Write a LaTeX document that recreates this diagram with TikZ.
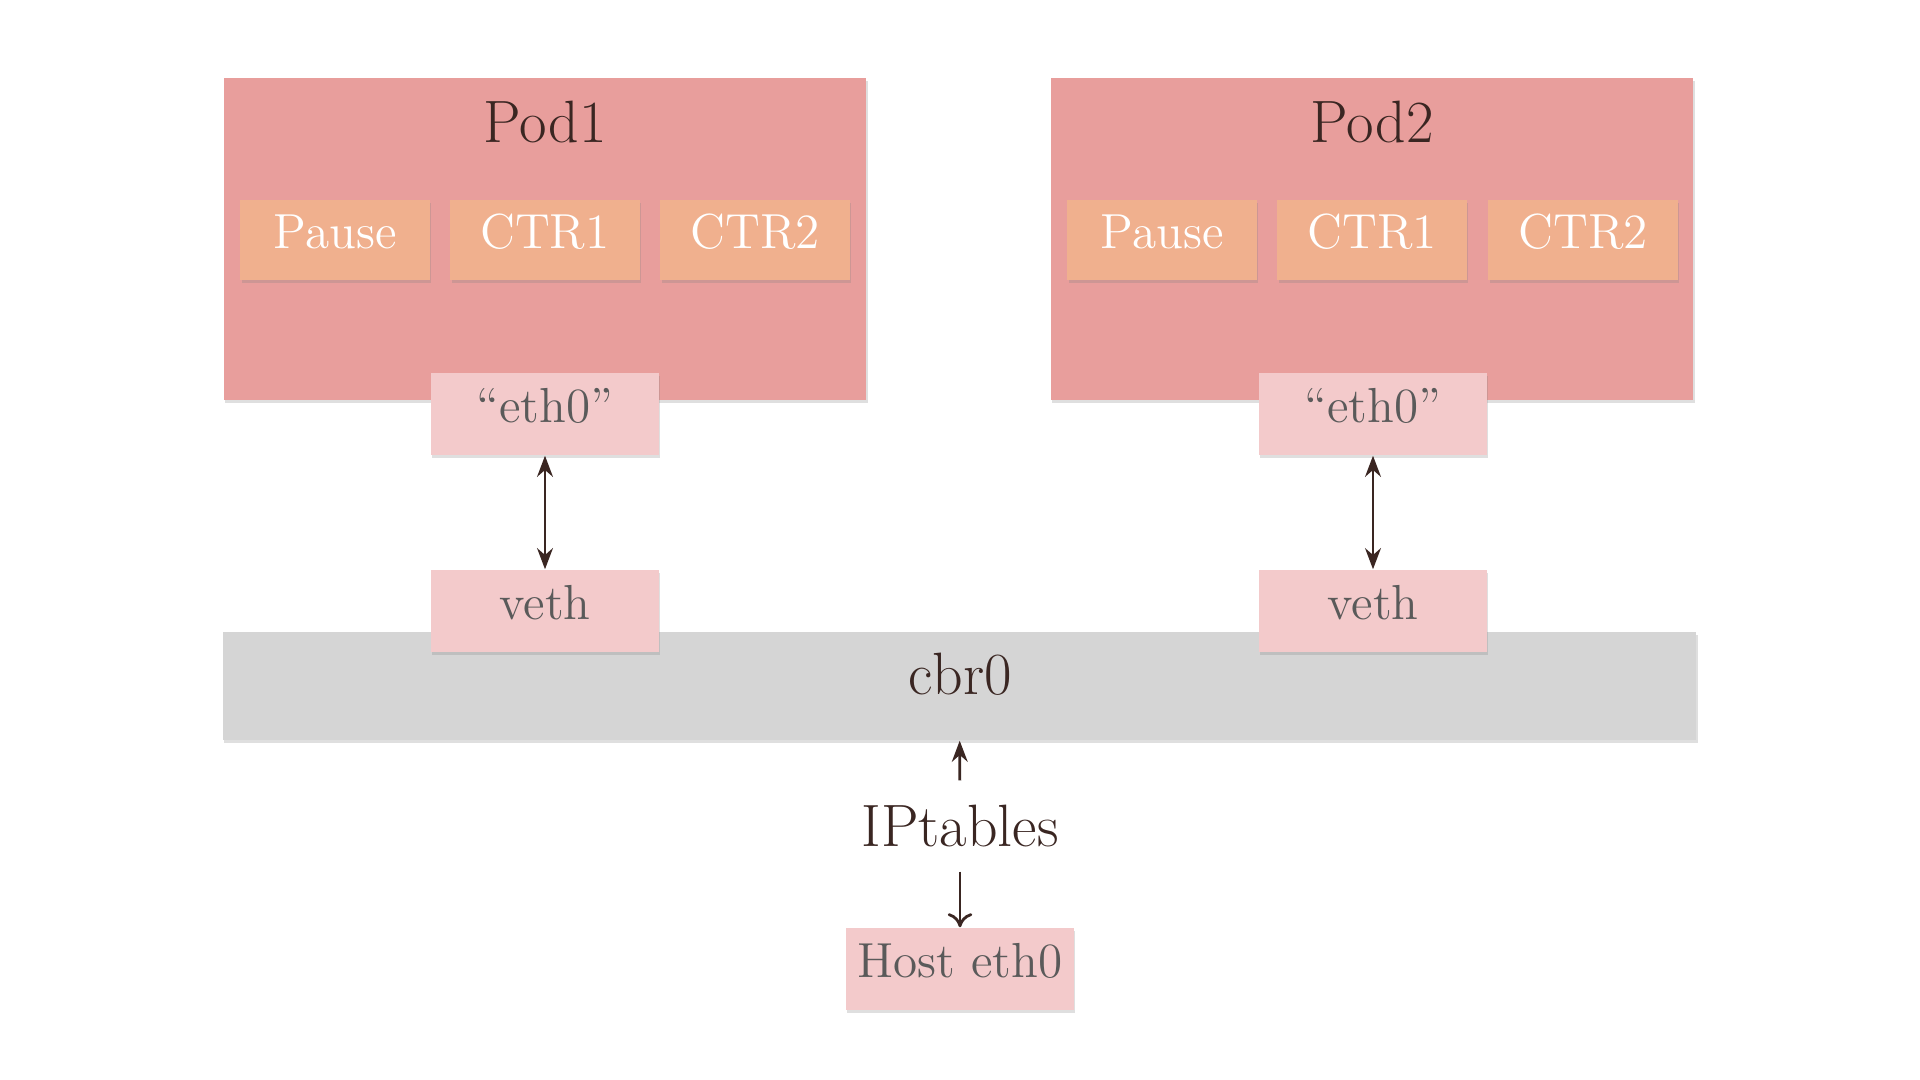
\documentclass[tikz,border=0pt]{standalone}
\usetikzlibrary{arrows.meta,shadows}
\begin{document}
\begin{tikzpicture}[x=0.01cm,y=-0.01cm,
    box/.style={rectangle, inner sep=0pt, drop shadow={shadow xshift=0.4pt, shadow yshift=-0.8pt, opacity=0.25}},
    podbox/.style={box, fill=podfill, minimum width=6.42cm, minimum height=3.22cm},
    ctrbox/.style={box, fill=ctrfill, text=white, minimum width=1.89cm, minimum height=0.80cm, text height=9pt, text depth=4pt, font=\fontsize{14}{16}\selectfont},
    ifbox/.style={box, fill=iffill, text=iftext, minimum width=2.28cm, minimum height=0.82cm, text height=9pt, text depth=4pt, font=\fontsize{14}{16}\selectfont},
    title/.style={text=ink, font=\fontsize{17}{20}\selectfont},
    link/.style={draw=ink, line width=0.8pt}]
            \definecolor{podfill}{HTML}{E89E9C}
            \definecolor{ctrfill}{HTML}{F0B08E}
            \definecolor{iffill}{HTML}{F3CACB}
            \definecolor{brfill}{HTML}{D5D5D5}
            \definecolor{iftext}{HTML}{5A5A5A}
            \definecolor{ink}{HTML}{3A2622}
            \useasboundingbox (0,0) rectangle (1920,1080);
            % pods
            \node[podbox] (pod1) at ( 545,239) {};
            \node[podbox] (pod2) at (1372,239) {};
            \node[title] (pod1lbl) at ( 545,122) {Pod1};
            \node[title] (pod2lbl) at (1372,122) {Pod2};
            \node[ctrbox] (pause1) at ( 335,240) {Pause};
            \node[ctrbox] (ctra1)  at ( 545,240) {CTR1};
            \node[ctrbox] (ctrb1)  at ( 755,240) {CTR2};
            \node[ctrbox] (pause2) at (1162,240) {Pause};
            \node[ctrbox] (ctra2)  at (1372,240) {CTR1};
            \node[ctrbox] (ctrb2)  at (1583,240) {CTR2};
            \node[ifbox] (eth1) at ( 545,414) {``eth0''};
            \node[ifbox] (eth2) at (1373,414) {``eth0''};
            % bridge
            \node[box, fill=brfill, minimum width=14.73cm, minimum height=1.08cm] (cbr) at (959.5,686) {};
            \node[title] (cbrlbl) at (960,674) {cbr0};
            \node[ifbox] (veth1) at ( 545,611) {veth};
            \node[ifbox] (veth2) at (1373,611) {veth};
            % host side
            \node[title, minimum height=0.90cm, inner sep=0pt] (ipt) at (960,826) {IPtables};
            \node[ifbox] (host) at (960,969) {Host eth0};
            \draw[link, {Stealth[length=6pt]}-{Stealth[length=6pt]}] (eth1) -- (veth1);
            \draw[link, {Stealth[length=6pt]}-{Stealth[length=6pt]}] (eth2) -- (veth2);
            \draw[link, -{Stealth[length=6pt]}] (ipt) -- (cbr);
            \draw[link, -{To[length=4pt, width=7pt]}] (ipt) -- (host);
        \end{tikzpicture}
\end{document}
